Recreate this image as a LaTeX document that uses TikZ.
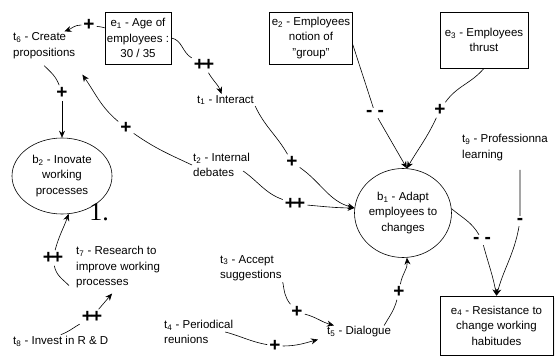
\documentclass[tikz,border=0pt]{standalone}
\usepackage{fontspec}
\setmainfont{Liberation Sans}
\newfontfamily\numfont{Liberation Serif}
\usepackage{xcolor}
\usepackage{tikz}
\usetikzlibrary{arrows.meta,shapes.geometric,shadows}
\newcommand\labfont{\fontsize{11.5}{15.5}\selectfont}
\newcommand\signfont{\fontsize{19}{19}\selectfont\bfseries}
\newcommand\pp{+\kern-2pt+}
\tikzset{
  link/.style={draw=black, line width=0.6pt},
  arrowline/.style={link, -{Stealth[length=7pt,width=6pt]}},
  envbox/.style={draw, fill=white, line width=0.6pt, align=center, font=\labfont, inner sep=2pt},
  goal/.style={draw, ellipse, line width=0.6pt, align=center, font=\labfont, inner sep=0pt},
  lab/.style={align=left, inner sep=1pt, font=\labfont},
  sign/.style={font=\signfont, inner sep=2pt},
}

\begin{document}
\begin{tikzpicture}[x=1pt,y=-1pt]
\useasboundingbox (0,0) rectangle (555,356);

% Boxes
\node[envbox, minimum width=64pt, minimum height=52pt] (e1) at (138,38)
  {e\textsubscript{1} - Age of\\employees :\\30 / 35};
\node[envbox, minimum width=82pt, minimum height=52pt] (e2) at (311,38)
  {e\textsubscript{2} - Employees\\notion of\\\symbol{34}group\symbol{34}};
\node[envbox, minimum width=88pt, minimum height=56pt] (e3) at (484,40)
  {e\textsubscript{3} - Employees\\thrust};
\node[envbox, minimum width=113pt, minimum height=59pt,
  drop shadow={opacity=0.12, shadow xshift=2pt, shadow yshift=-2pt}] (e4) at (496.5,325.5)
  {e\textsubscript{4} - Resistance to\\change working\\habitudes};

% Ellipses
\node[goal, minimum width=97pt, minimum height=89pt] (b1) at (403,213)
  {b\textsubscript{1} - Adapt\\employees to\\changes};
\node[goal, minimum width=100pt, minimum height=76pt] (b2) at (62,176)
  {b\textsubscript{2} - Inovate\\working\\processes};
\node[font=\numfont\fontsize{26}{26}\selectfont, inner sep=0pt] (num) at (99,212) {1.};

% Tasks
\node[lab, anchor=west] (t6) at (12,45.5) {t\textsubscript{6} - Create\\propositions};
\node[lab, anchor=west] (t1) at (196,100) {t\textsubscript{1} - Interact};
\node[lab, anchor=west] (t2) at (192,165) {t\textsubscript{2} - Internal\\debates};
\node[lab, anchor=west] (t9) at (461,147.5) {t\textsubscript{9} - Professionna\\learning};
\node[lab, anchor=west] (t7) at (75,267.5) {t\textsubscript{7} - Research to\\improve working\\processes};
\node[lab, anchor=west] (t8) at (12,341) {t\textsubscript{8} - Invest in R \& D};
\node[lab, anchor=west] (t3) at (219,268) {t\textsubscript{3} - Accept\\suggestions};
\node[lab, anchor=west] (t4) at (163,332) {t\textsubscript{4} - Periodical\\reunions};
\node[lab, anchor=west] (t5) at (326,332) {t\textsubscript{5} - Dialogue};

% Signs
\node[sign] (s1) at (89,25) {+};
\node[sign] (s2) at (204,65) {\pp};
\node[sign] (s3) at (62,93) {+};
\node[sign] (s4) at (126,128) {+};
\node[sign] (s5) at (292,162) {+};
\node[sign] (s6) at (295,204) {\pp};
\node[sign] (s7) at (375,113) {- -};
\node[sign] (s8) at (440,110) {+};
\node[sign] (s9) at (482,240) {- -};
\node[sign] (s10) at (520,221) {-};
\node[sign] (s11) at (297,312) {+};
\node[sign] (s12) at (275,346) {+};
\node[sign] (s13) at (399,292) {+};
\node[sign] (s14) at (53,258) {\pp};
\node[sign] (s15) at (92,317) {\pp};

% Links
\draw[link] (e1.163) to[out=160,in=-10] (s1);
\draw[arrowline] (s1) to[out=180,in=20] ([xshift=-12pt]t6.north east);
\draw[link] (e1.east) to[out=-10,in=150] (s2);
\draw[arrowline] (s2) to[out=-60,in=110] ([xshift=-4pt]t1.north);
\draw[link] ([yshift=-6pt]t6.south) to[out=-45,in=110] (s3);
\draw[arrowline] (s3) -- (b2.north);
\draw[link] (t2.west) to[out=155,in=-35] (s4);
\draw[arrowline] (s4) to[out=140,in=-55] ([shift={(6pt,-15pt)}]t6.south east);
\draw[link] (t1.south east) to[out=-65,in=120] (s5);
\draw[arrowline] (s5) to[out=-35,in=165] (b1.174);
\draw[link] ([shift={(-8pt,-6pt)}]t2.east) to[out=-35,in=160] (s6);
\draw[arrowline] (s6) to[out=-5,in=180] (b1.174);
\draw[link] (e2.-8) -- (s7);
\draw[arrowline] (s7) -- (b1.85);
\draw[link] (e3.south) to[out=-130,in=55] (s8);
\draw[arrowline] (s8) to[out=-115,in=60] (b1.85);
\draw[link] (b1.5) to[out=-40,in=120] (s9);
\draw[arrowline] (s9) to[out=-75,in=100] (e4.north);
\draw[link] ([shift={(15pt,-8pt)}]t9.south) to[out=-90,in=90] (s10);
\draw[arrowline] (s10) to[out=-100,in=75] (e4.north);
\draw[link] (t3.south east) to[out=-80,in=130] (s11);
\draw[arrowline] (s11) to[out=-15,in=165] ([xshift=8pt]t5.north west);
\draw[link] ([xshift=-9pt]t4.east) to[out=-15,in=170] (s12);
\draw[arrowline] (s12) to[out=0,in=195] ([xshift=-8pt,yshift=-1pt]t5.south west);
\draw[link] ([xshift=-8pt]t5.north east) to[out=60,in=-105] (s13);
\draw[arrowline] (s13) to[out=80,in=-85] (b1.-85);
\draw[link] ([shift={(-6pt,4pt)}]t7.south west) to[out=135,in=-80] (s14);
\draw[arrowline] (s14) to[out=75,in=-110] (b2.-80);
\draw[link] (t8.north) to[out=20,in=-150] (s15);
\draw[arrowline] (s15) -- ([xshift=-6pt,yshift=-4pt]t7.south);
\end{tikzpicture}
\end{document}
